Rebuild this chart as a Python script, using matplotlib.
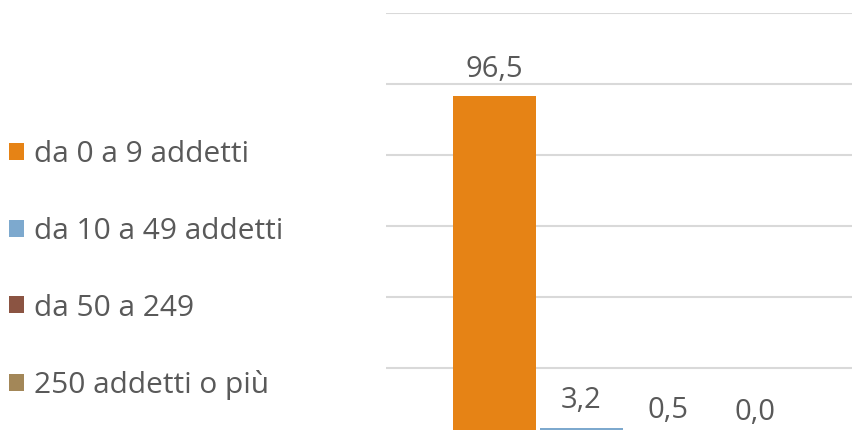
import numpy as np
import matplotlib
matplotlib.use("Agg")
import matplotlib.pyplot as plt

# share of firms by size class (%)
classes = ["da 0 a 9 addetti", "da 10 a 49 addetti", "da 50 a 249", "250 addetti o più"]
values = [96.5, 3.2, 0.5, 0.0]
colors = ["#E68315", "#7DA9CE", "#8B5442", "#A38758"]

plt.rcParams["font.family"] = ["Open Sans", "DejaVu Sans"]
text_color = "#595959"

fig = plt.figure(figsize=(8.52, 4.30), dpi=100)
ax = fig.add_axes([386 / 852, 1 - 439 / 430, 478 / 852, 426 / 430])

width = 0.174
step = 0.182
x = (np.arange(len(values)) - 1.5) * step
bars = []
for xi, v, c, lab in zip(x, values, colors, classes):
    b = ax.bar(xi, v, width=width, color=c, label=lab, zorder=3)
    bars.append(b)
    ax.annotate(f"{v:.1f}".replace(".", ","), (xi, v), xytext=(0, 14),
                textcoords="offset points", ha="center", va="baseline",
                fontsize=21, color=text_color)

ax.set_xlim(-0.5, 0.5)
ax.set_ylim(0, 120)
ax.set_yticks(np.arange(0, 121, 20))
ax.grid(axis="y", color="#D9D9D9", linewidth=1.5, zorder=0)
ax.tick_params(left=False, bottom=False, labelleft=False, labelbottom=False)
for s in ax.spines.values():
    s.set_visible(False)

fig.legend(handles=[b[0] for b in bars], labels=classes,
           loc="upper left", bbox_to_anchor=(0.0, 1 - 131 / 430),
           frameon=False, fontsize=21.5, labelcolor=text_color,
           handlelength=0.5, handleheight=0.5, handletextpad=0.35,
           labelspacing=1.6, borderaxespad=0, borderpad=0.3)

fig.savefig("out.png", dpi=100)
